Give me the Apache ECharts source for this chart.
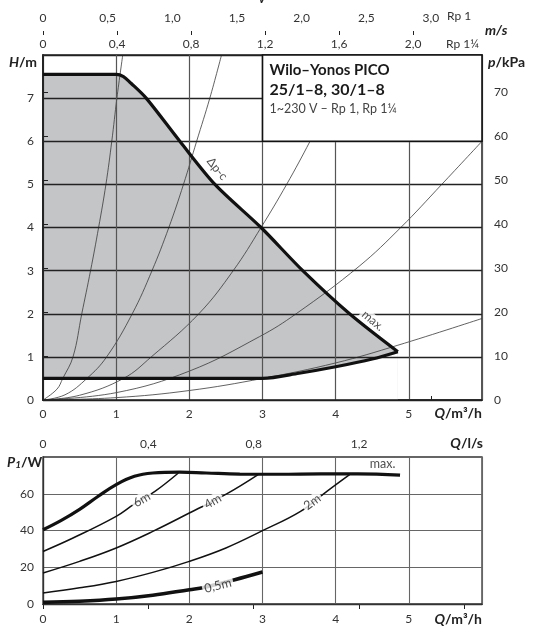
<!DOCTYPE html>
<html>
<head>
<meta charset="utf-8">
<script src="https://cdn.jsdelivr.net/npm/echarts@6/dist/echarts.min.js"></script>
<style>
  html, body { margin: 0; padding: 0; background: #fff; }
  #chart { width: 554px; height: 637px; }
</style>
</head>
<body>
<div id="chart"></div>
<script>
// ---- upper diagram: head H (m) over flow Q (m3/h) ----
const maxQ = [0, 1.0, 1.1, 1.2, 1.41, 1.87, 2.35, 2.98, 3.55, 4.19, 4.85];
const maxH = [7.55, 7.55, 7.5, 7.35, 7.0, 6.0, 5.0, 4.0, 3.0, 2.0, 1.12];
const minQ = [0, 3.0, 3.5, 4.0, 4.5, 4.85];
const minH = [0.5, 0.5, 0.62, 0.77, 0.95, 1.12];

// system curves
const sys1Q = [0, 0.19, 0.27, 0.41, 0.53, 0.65, 0.76, 0.86, 0.94, 1.01, 1.09];
const sys1H = [0, 0.25, 0.5, 1, 2, 3, 4, 5, 6, 7, 8];
const sys2Q = [0, 0.3, 0.6, 0.87, 1.22, 1.49, 1.72, 1.92, 2.1, 2.28, 2.44];
const sys2H = [0, 0.12, 0.5, 1, 2, 3, 4, 5, 6, 7, 8];
const sys3Q = [0, 0.5, 1.1, 1.48, 2.13, 2.6, 2.98, 3.33, 3.65, 3.95, 4.2];
const sys3H = [0, 0.11, 0.5, 1, 2, 3, 4, 5, 6, 7, 8];
const sys4Q = [0, 1, 2, 2.96, 3.46, 4.32, 4.89, 5.45, 6.0];
const sys4H = [0, 0.17, 0.67, 1.47, 2, 3.1, 4, 5, 6];
const sys5Q = [0, 1, 2, 3, 4, 4.85, 6.0];
const sys5H = [0, 0.055, 0.22, 0.5, 0.86, 1.27, 1.89];

// ---- lower diagram: power P1 (W) over flow Q (m3/h) ----
const pMaxQ = [0, 0.25, 0.5, 0.75, 1.0, 1.25, 1.5, 1.87, 2.23, 2.69, 3.23, 3.8, 4.3, 4.88];
const pMaxW = [40.4, 45.5, 51.5, 58.5, 65, 69.5, 71.3, 71.8, 71.3, 70.7, 70.6, 70.8, 70.8, 70.1];
const p6Q = [0, 0.41, 1.0, 1.25, 1.53, 1.85];
const p6W = [28.6, 35.9, 47.7, 54.5, 61.3, 71.3];
const p4Q = [0, 0.5, 1.0, 1.5, 2.0, 2.51, 2.94];
const p4W = [16.9, 23.2, 30.5, 39.5, 49.5, 59.9, 70.4];
const p2Q = [0, 0.5, 1, 1.5, 2, 2.5, 3, 3.52, 3.88, 4.19];
const p2W = [6.0, 8.8, 12.3, 17.2, 23.2, 30.5, 39.9, 50.4, 61.3, 70.4];
const p05Q = [0, 0.5, 1, 1.5, 2, 2.2, 2.62, 3.0];
const p05W = [0.9, 1.5, 2.7, 4.8, 7.8, 9.0, 13.2, 17.4];

// ---- tick labels ----
const qTicks = [0, 1, 2, 3, 4, 5];
const hTicks = [0, 1, 2, 3, 4, 5, 6, 7];
const kpaTicks = [0, 10, 20, 30, 40, 50, 60, 70];
const vRp1Ticks = [0, 0.5, 1.0, 1.5, 2.0, 2.5, 3.0];
const vRp114Ticks = [0, 0.4, 0.8, 1.2, 1.6, 2.0];
const lsLabels = [0, 0.4, 0.8, 1.2];
const lsTicks = [0, 0.4, 0.8, 1.2, 1.6];
const powTicks = [0, 20, 40, 60];

const qMax = 6, hMax = 8, kpaMax = 78.48, powMax = 80;
const vRp1Max = 3.395, vRp114Max = 2.372, lsMax = 6 / 3.6;
// title box corners (Q, H)
const boxFrom = [3, 8], boxTo = [6, 6];

const pair = (xs, ys) => xs.map((x, i) => [x, ys[i]]);
const comma = v => (v === 0 ? '0' : v.toFixed(1).replace('.', ','));

const font = 'Lato';
const labelStyle = { color: '#333', fontSize: 12, fontFamily: font };
const maxSmooth = 0.3;

function sysLine(xs, ys) {
    return {
        type: 'line', xAxisIndex: 0, yAxisIndex: 0, z: 2.5,
        data: pair(xs, ys), smooth: 0.4, showSymbol: false, silent: true,
        lineStyle: { color: '#3a3a3a', width: 0.8 }
    };
}

function powLine(xs, ys, w) {
    return {
        type: 'line', xAxisIndex: 4, yAxisIndex: 2, z: 5,
        data: pair(xs, ys), smooth: 0.4, showSymbol: false, silent: true,
        lineStyle: { color: '#111', width: w }
    };
}

// filled area under a curve (used to paint the operating range)
function fillArea(xs, ys, color, z) {
    return {
        type: 'line', xAxisIndex: 0, yAxisIndex: 0, z: z,
        data: pair(xs, ys), smooth: maxSmooth, showSymbol: false, silent: true,
        lineStyle: { width: 0 }, areaStyle: { color: color, opacity: 1 }
    };
}

function txt(text, pos, style) {
    return Object.assign({ type: 'text', silent: true }, pos, {
        style: Object.assign({ text: text, fill: '#222', fontFamily: font, fontSize: 13 }, style)
    });
}

const italicRich = { i: { fontFamily: font, fontSize: 14, fontWeight: 'bold', fontStyle: 'italic' } };

var myChart = echarts.init(document.getElementById('chart'));

const option = {
    animation: false,
    textStyle: { fontFamily: font },
    grid: [
        { left: 43, top: 55, width: 439, height: 345, show: true, borderColor: '#222', borderWidth: 1.5, backgroundColor: 'transparent' },
        { left: 43, top: 457, width: 439, height: 147, show: true, borderColor: '#333', borderWidth: 1.3, backgroundColor: 'transparent' }
    ],
    xAxis: [
        {   // 0: Q upper
            gridIndex: 0, type: 'value', min: 0, max: qMax, interval: 1, position: 'bottom', z: 3,
            axisLine: { lineStyle: { color: '#222', width: 1.5 } },
            axisTick: { show: false },
            axisLabel: Object.assign({ customValues: qTicks, margin: 8 }, labelStyle),
            splitLine: { lineStyle: { color: '#555', width: 1.2 } }
        },
        {   // 1: velocity Rp 1
            gridIndex: 0, type: 'value', min: 0, max: vRp1Max, position: 'top', offset: 24,
            axisLine: { show: true, lineStyle: { color: '#222', width: 1.2 } },
            axisTick: { show: true, customValues: vRp1Ticks, length: 4, lineStyle: { color: '#222' } },
            axisLabel: Object.assign({ customValues: vRp1Ticks, formatter: comma, margin: 7 }, labelStyle),
            splitLine: { show: false }
        },
        {   // 2: velocity Rp 1 1/4
            gridIndex: 0, type: 'value', min: 0, max: vRp114Max, position: 'top', offset: 24,
            axisLine: { show: false },
            axisTick: { show: true, inside: true, customValues: vRp114Ticks, length: 4, lineStyle: { color: '#222' } },
            axisLabel: Object.assign({ customValues: vRp114Ticks, formatter: comma, inside: true, margin: 7 }, labelStyle),
            splitLine: { show: false }
        },
        {   // 3: Q in l/s
            gridIndex: 1, type: 'value', min: 0, max: lsMax, position: 'top', offset: 27,
            axisLine: { show: true, lineStyle: { color: '#222', width: 1.2 } },
            axisTick: { show: true, inside: true, customValues: lsTicks, length: 5, lineStyle: { color: '#222' } },
            axisLabel: Object.assign({ customValues: lsLabels, formatter: comma, inside: true, margin: 8 }, labelStyle),
            splitLine: { show: false }
        },
        {   // 4: Q lower
            gridIndex: 1, type: 'value', min: 0, max: qMax, interval: 1, position: 'bottom', z: 3,
            axisLine: { lineStyle: { color: '#333', width: 1.3 } },
            axisTick: { show: false },
            axisLabel: Object.assign({ customValues: qTicks, margin: 9 }, labelStyle),
            splitLine: { lineStyle: { color: '#666', width: 1.1 } }
        }
    ],
    yAxis: [
        {   // 0: H
            gridIndex: 0, type: 'value', min: 0, max: hMax, interval: 1, position: 'left', z: 3,
            axisLine: { show: true, lineStyle: { color: '#222', width: 1.5 } },
            axisTick: { show: false },
            axisLabel: Object.assign({ customValues: hTicks, margin: 9 }, labelStyle),
            splitLine: { lineStyle: { color: '#222', width: 1.4 } }
        },
        {   // 1: p in kPa
            gridIndex: 0, type: 'value', min: 0, max: kpaMax, position: 'right', z: 3,
            axisLine: { show: true, lineStyle: { color: '#222', width: 1.5 } },
            axisTick: { show: true, customValues: kpaTicks, length: 5, lineStyle: { color: '#222' } },
            axisLabel: Object.assign({ customValues: kpaTicks, margin: 12 }, labelStyle),
            splitLine: { show: false }
        },
        {   // 2: P1 in W
            gridIndex: 1, type: 'value', min: 0, max: powMax, interval: 20, position: 'left', z: 3,
            axisLine: { show: true, lineStyle: { color: '#333', width: 1.3 } },
            axisTick: { show: false },
            axisLabel: Object.assign({ customValues: powTicks, margin: 9 }, labelStyle),
            splitLine: { lineStyle: { color: '#666', width: 1.1 } }
        }
    ],
    series: [
        fillArea(maxQ, maxH, '#c4c5c7', 1),
        fillArea(minQ, minH, '#ffffff', 2),
        sysLine(sys1Q, sys1H),
        sysLine(sys2Q, sys2H),
        sysLine(sys3Q, sys3H),
        sysLine(sys4Q, sys4H),
        sysLine(sys5Q, sys5H),
        {   // title box
            type: 'custom', xAxisIndex: 0, yAxisIndex: 0, z: 4, silent: true,
            data: [[boxFrom[0], boxFrom[1], boxTo[0], boxTo[1]]],
            renderItem: function (params, api) {
                const a = api.coord([api.value(0), api.value(1)]);
                const b = api.coord([api.value(2), api.value(3)]);
                return {
                    type: 'group',
                    children: [
                        { type: 'rect', shape: { x: a[0], y: a[1], width: b[0] - a[0], height: b[1] - a[1] },
                          style: { fill: '#fff', stroke: '#111', lineWidth: 1.6 } },
                        { type: 'text', x: a[0] + 7, y: a[1] + 5,
                          style: {
                              text: '{a|Wilo–Yonos PICO}\n{b|25/1–8, 30/1–8}\n{c|1~230 V – Rp 1, Rp 1¼}',
                              rich: {
                                  a: { fontFamily: font, fontWeight: 'bold', fontSize: 15, fill: '#1a1a1a', lineHeight: 20 },
                                  b: { fontFamily: font, fontWeight: 'bold', fontSize: 16, fill: '#1a1a1a', lineHeight: 20 },
                                  c: { fontFamily: font, fontSize: 12.5, fill: '#444', lineHeight: 18 }
                              }
                          } }
                    ]
                };
            }
        },
        {   // max curve
            type: 'line', xAxisIndex: 0, yAxisIndex: 0, z: 5, silent: true,
            data: pair(maxQ, maxH), smooth: maxSmooth, showSymbol: false,
            lineStyle: { color: '#111', width: 3.2 }
        },
        {   // min curve
            type: 'line', xAxisIndex: 0, yAxisIndex: 0, z: 5, silent: true,
            data: pair(minQ, minH), smooth: maxSmooth, showSymbol: false,
            lineStyle: { color: '#111', width: 3.2 }
        },
        powLine(pMaxQ, pMaxW, 3.2),
        powLine(p6Q, p6W, 1.5),
        powLine(p4Q, p4W, 1.5),
        powLine(p2Q, p2W, 1.5),
        powLine(p05Q, p05W, 3.6),
        {   // curve labels, upper diagram
            type: 'scatter', xAxisIndex: 0, yAxisIndex: 0, z: 6, symbolSize: 0, silent: true,
            label: { show: true, position: 'inside', color: '#222', fontSize: 12, fontFamily: font, backgroundColor: '#fff', padding: [0, 2] },
            data: [
                { value: [2.38, 5.36], label: { formatter: 'Δp-c', rotate: -51, backgroundColor: 'transparent' } },
                { value: [4.51, 1.84], label: { formatter: 'max.', rotate: -40 } }
            ]
        },
        {   // curve labels, lower diagram
            type: 'scatter', xAxisIndex: 4, yAxisIndex: 2, z: 6, symbolSize: 0, silent: true,
            label: { show: true, position: 'inside', color: '#222', fontSize: 12.5, fontFamily: font, backgroundColor: '#fff', padding: [0, 2] },
            data: [
                { value: [1.35, 56.8], label: { formatter: '6m', rotate: 30 } },
                { value: [2.32, 55.8], label: { formatter: '4m', rotate: 30 } },
                { value: [3.68, 55.5], label: { formatter: '2m', rotate: 36 } },
                { value: [2.39, 10.0], label: { formatter: '0,5m', rotate: 14 } },
                { value: [4.64, 76.2], label: { formatter: 'max.', rotate: 0, backgroundColor: 'transparent' } }
            ]
        }
    ],
    graphic: [
        txt('v', { left: 258, top: -11 }, { fontSize: 17, fontStyle: 'italic' }),
        txt('Rp 1', { left: 447, top: 10 }, { fontSize: 12, fill: '#333' }),
        txt('m/s', { left: 485, top: 23 }, { fontSize: 14, fontStyle: 'italic', fontWeight: 'bold' }),
        txt('Rp 1¼', { left: 446, top: 38 }, { fontSize: 12, fill: '#333' }),
        txt('{i|H}/m', { left: 9, top: 55 }, { fontSize: 14, fontWeight: 'bold', rich: italicRich }),
        txt('{i|p}/kPa', { left: 488, top: 55 }, { fontSize: 14, fontWeight: 'bold', rich: italicRich }),
        txt('{i|Q}/m³/h', { right: 72, top: 406 }, { fontSize: 14, fontWeight: 'bold', rich: italicRich }),
        txt('{i|Q}/l/s', { right: 71, top: 436 }, { fontSize: 14, fontWeight: 'bold', rich: italicRich }),
        txt('{i|P}{s|1}/W', { left: 7, top: 455 }, {
            fontSize: 14, fontWeight: 'bold',
            rich: {
                i: italicRich.i,
                s: { fontFamily: font, fontSize: 10, fontWeight: 'bold', fontStyle: 'italic', padding: [5, 0, 0, 0] }
            }
        }),
        txt('{i|Q}/m³/h', { right: 72, top: 612 }, { fontSize: 14, fontWeight: 'bold', rich: italicRich })
    ]
};

myChart.setOption(option);
</script>
</body>
</html>
